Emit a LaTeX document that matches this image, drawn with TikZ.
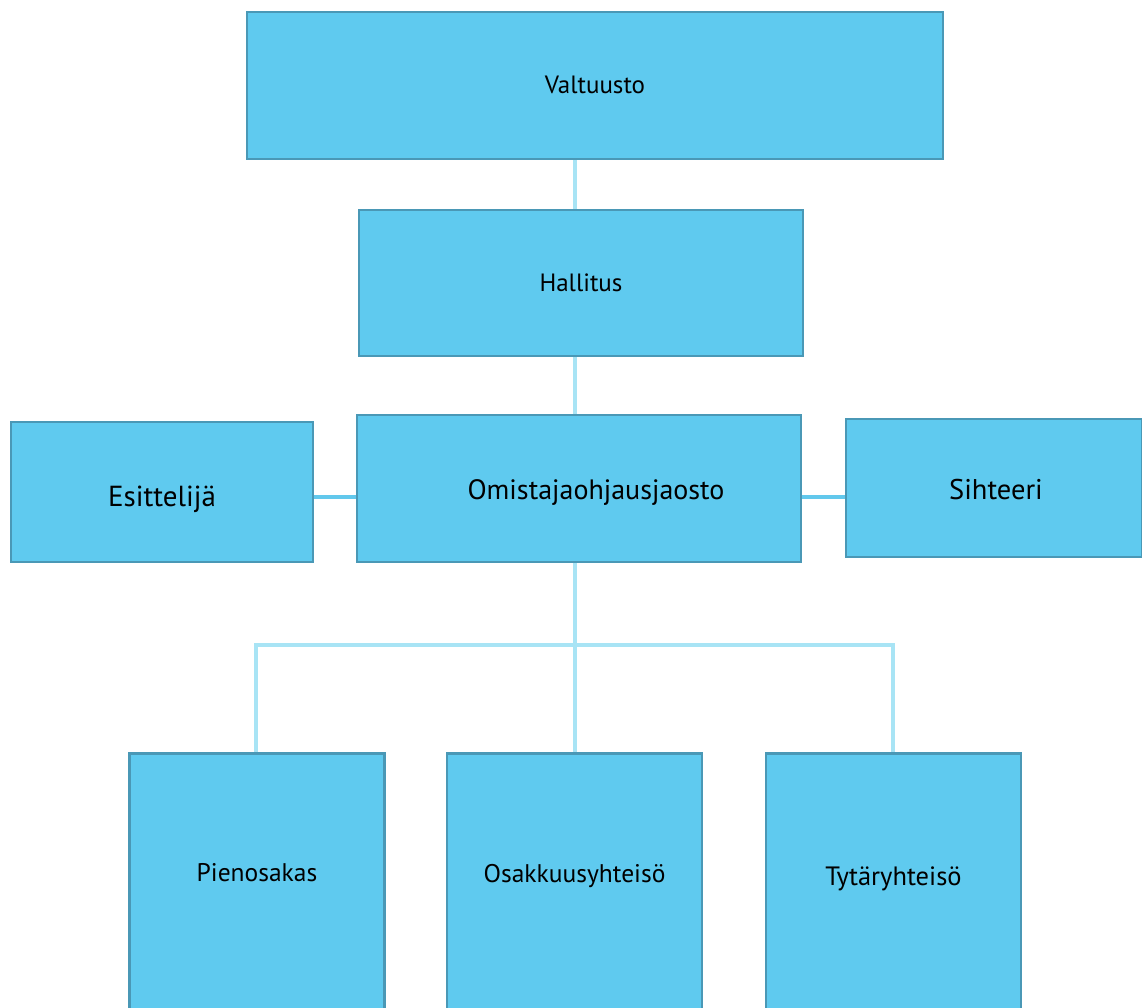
\documentclass[tikz,border=0pt]{standalone}
\usepackage{fontspec}
\setmainfont{PT Sans}
\usetikzlibrary{positioning}

\definecolor{boxfill}{HTML}{5FCAEF}
\definecolor{boxline}{HTML}{4A98B6}
\definecolor{linklight}{HTML}{A8E4F5}
\definecolor{linkside}{HTML}{62C8EC}

\newcommand{\nudge}[2]{\raisebox{#1}[\height][\depth]{#2}}

\begin{document}
\begin{tikzpicture}[x=1pt,y=-1pt,
    unit/.style={draw=boxline,line width=2.5pt,fill=boxfill,
      font=\fontsize{25}{30}\selectfont,inner sep=0pt},
    subunit/.style={unit,minimum width=255,minimum height=290,anchor=north},
    sublabel/.style={font=\fontsize{25.5}{30}\selectfont},
    link/.style={draw=linklight,line width=3.5pt},
    sidelink/.style={draw=linkside,line width=4pt}]
  \clip (0,0) rectangle (1142,1008);
  \fill[white] (0,0) rectangle (1142,1008);
  % hierarchy
  \node[unit,minimum width=696,minimum height=147] (valt) at (595,85.5) {\nudge{1pt}{Valtuusto}};
  \node[unit,minimum width=444,minimum height=146] (hall) at (581,283) {Hallitus};
  \node[unit,minimum width=444,minimum height=147,font=\fontsize{28}{32}\selectfont] (omis) at (579,488.5) {\hspace*{34pt}\nudge{-4pt}{Omistajaohjausjaosto}};
  \node[unit,minimum width=302,minimum height=140,font=\fontsize{29}{34}\selectfont] (esit) at (162,492) {\nudge{-7pt}{Esittelijä}};
  \node[unit,minimum width=296,minimum height=138,font=\fontsize{28.5}{34}\selectfont] (siht) at (994,488) {\hspace*{4pt}\nudge{-2pt}{Sihteeri}};
  \node[subunit,label={[sublabel,yshift=26pt]center:Pienosakas}] (pien) at (257,752) {};
  \node[subunit,label={[sublabel,yshift=22pt]center:Osakkuusyhteisö}] (osak) at (574.5,752) {};
  \node[subunit,label={[sublabel,yshift=19pt,font=\fontsize{26.5}{30}\selectfont]center:Tytäryhteisö}] (tyta) at (893.5,752) {};
  % connectors
  \coordinate (spine) at (575,645);
  \coordinate (midline) at (579,497);
  \draw[link] (valt.south -| spine) -- (hall.north -| spine);
  \draw[link] (hall.south -| spine) -- (omis.north -| spine);
  \draw[link] (omis.south -| spine) -- (spine);
  \draw[link] ([xshift=-1pt]pien.north) |- (spine) -| ([xshift=-0.5pt]tyta.north);
  \draw[link] (spine) -- (osak.north -| spine);
  \draw[sidelink] (esit.east |- midline) -- (omis.west |- midline);
  \draw[sidelink] (omis.east |- midline) -- (siht.west |- midline);
\end{tikzpicture}
\end{document}
